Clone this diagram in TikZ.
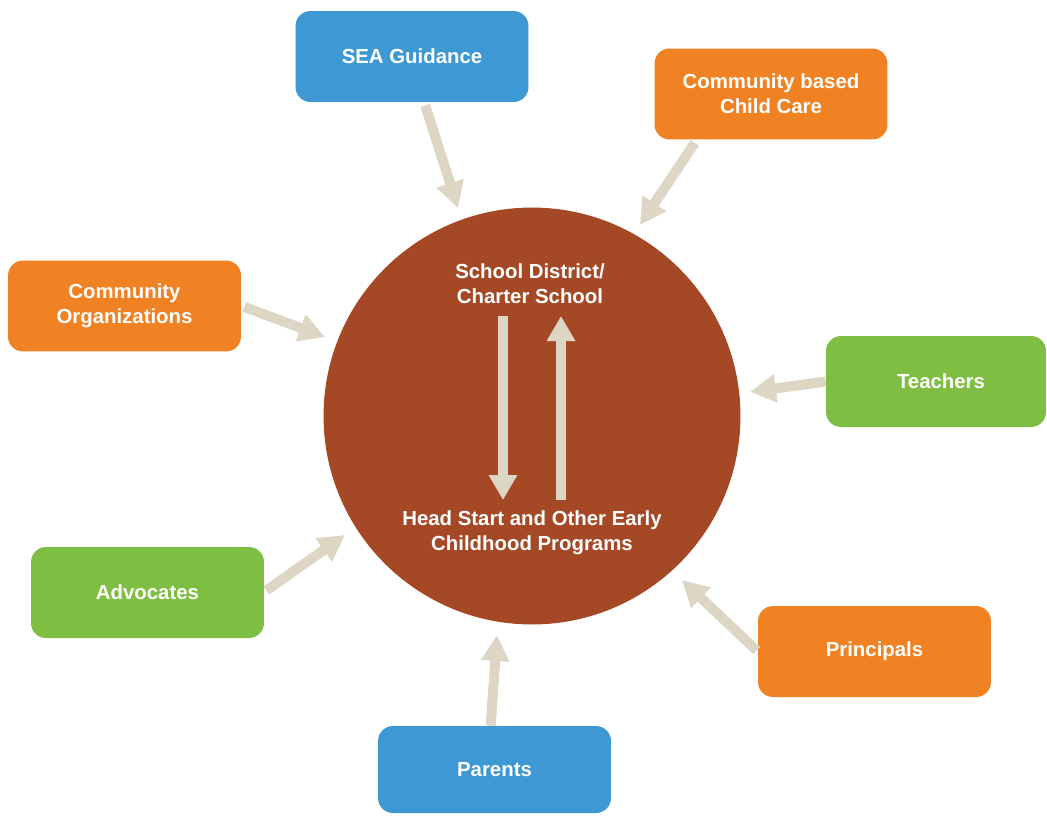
\documentclass[tikz,border=0pt]{standalone}
\usepackage{fontspec}
\setmainfont{Liberation Sans}
\usetikzlibrary{arrows.meta,positioning,shapes.geometric}
\definecolor{seablue}{HTML}{3D98D4}
\definecolor{careorange}{HTML}{F08223}
\definecolor{leafgreen}{HTML}{7DBE43}
\definecolor{hubbrown}{HTML}{A44825}
\definecolor{linkbeige}{HTML}{DDD6C5}

\begin{document}
\begin{tikzpicture}[
  x=0.02cm, y=-0.02cm,
  box/.style={rectangle, rounded corners=0.3cm, minimum width=4.66cm, minimum height=1.82cm, inner sep=0pt, text=white, align=center, font=\fontsize{11.6}{14.2}\selectfont\bfseries},
  hub/.style={circle, fill=hubbrown, minimum size=8.34cm, inner sep=0pt},
  hubtext/.style={text=white, align=center, font=\fontsize{11.6}{14.2}\selectfont\bfseries},
  link/.style={draw=linkbeige, line width=0.2cm, -{Triangle[width=0.54cm, length=0.52cm]}},
  flow/.style={draw=linkbeige, line width=0.19cm, -{Triangle[width=0.54cm, length=0.5cm]}}
]
\useasboundingbox (0,0) rectangle (1047,815);
\node[hub] (hub) at (532,416) {};
\node[hubtext] (district) at (530,284) {School District/\\Charter School};
\node[hubtext] (headstart) at (532,533) {Head Start and Other Early\\Childhood Programs};

\node[box, fill=seablue] (sea) at (412,56.5) {SEA Guidance};
\node[box, fill=careorange] (care) at (771,94) {Community based\\Child Care};
\node[box, fill=careorange] (orgs) at (124.5,306) {Community\\Organizations};
\node[box, fill=leafgreen, minimum width=4.4cm] (teachers) at (936,381.5) {\hspace*{0.2cm}Teachers};
\node[box, fill=leafgreen] (advocates) at (147.5,592.5) {Advocates};
\node[box, fill=careorange] (principals) at (874.5,651.5) {Principals};
\node[box, fill=seablue, minimum height=1.74cm] (parents) at (494.5,769.5) {Parents};

% arrow tips near the circle
\coordinate (seaT) at (458,208);
\coordinate (careT) at (640,225);
\coordinate (orgsT) at (325,337);
\coordinate (teachersT) at (750,392);
\coordinate (advocatesT) at (345,535);
\coordinate (principalsT) at (682,580);
\coordinate (parentsT) at (497,635);

\draw[link] ([shift={(0,3)}]sea.286) -- (seaT);
\draw[link] ([shift={(0,3)}]care.211) -- (careT);
\draw[link] ([shift={(3,1)}]orgs.east) -- (orgsT);
\draw[link] (teachers.west) -- (teachersT);
\draw[link] ([shift={(2,-2)}]advocates.east) -- (advocatesT);
\draw[link] ([shift={(-1,-1)}]principals.west) -- (principalsT);
\draw[link] (parents.95) -- (parentsT);

% up and down inside the circle
\coordinate (downS) at (503,316);
\coordinate (downE) at (503,500);
\coordinate (upS) at (561,500);
\coordinate (upE) at (561,316);
\draw[flow] (downS) -- (downE);
\draw[flow] (upS) -- (upE);
\end{tikzpicture}
\end{document}
